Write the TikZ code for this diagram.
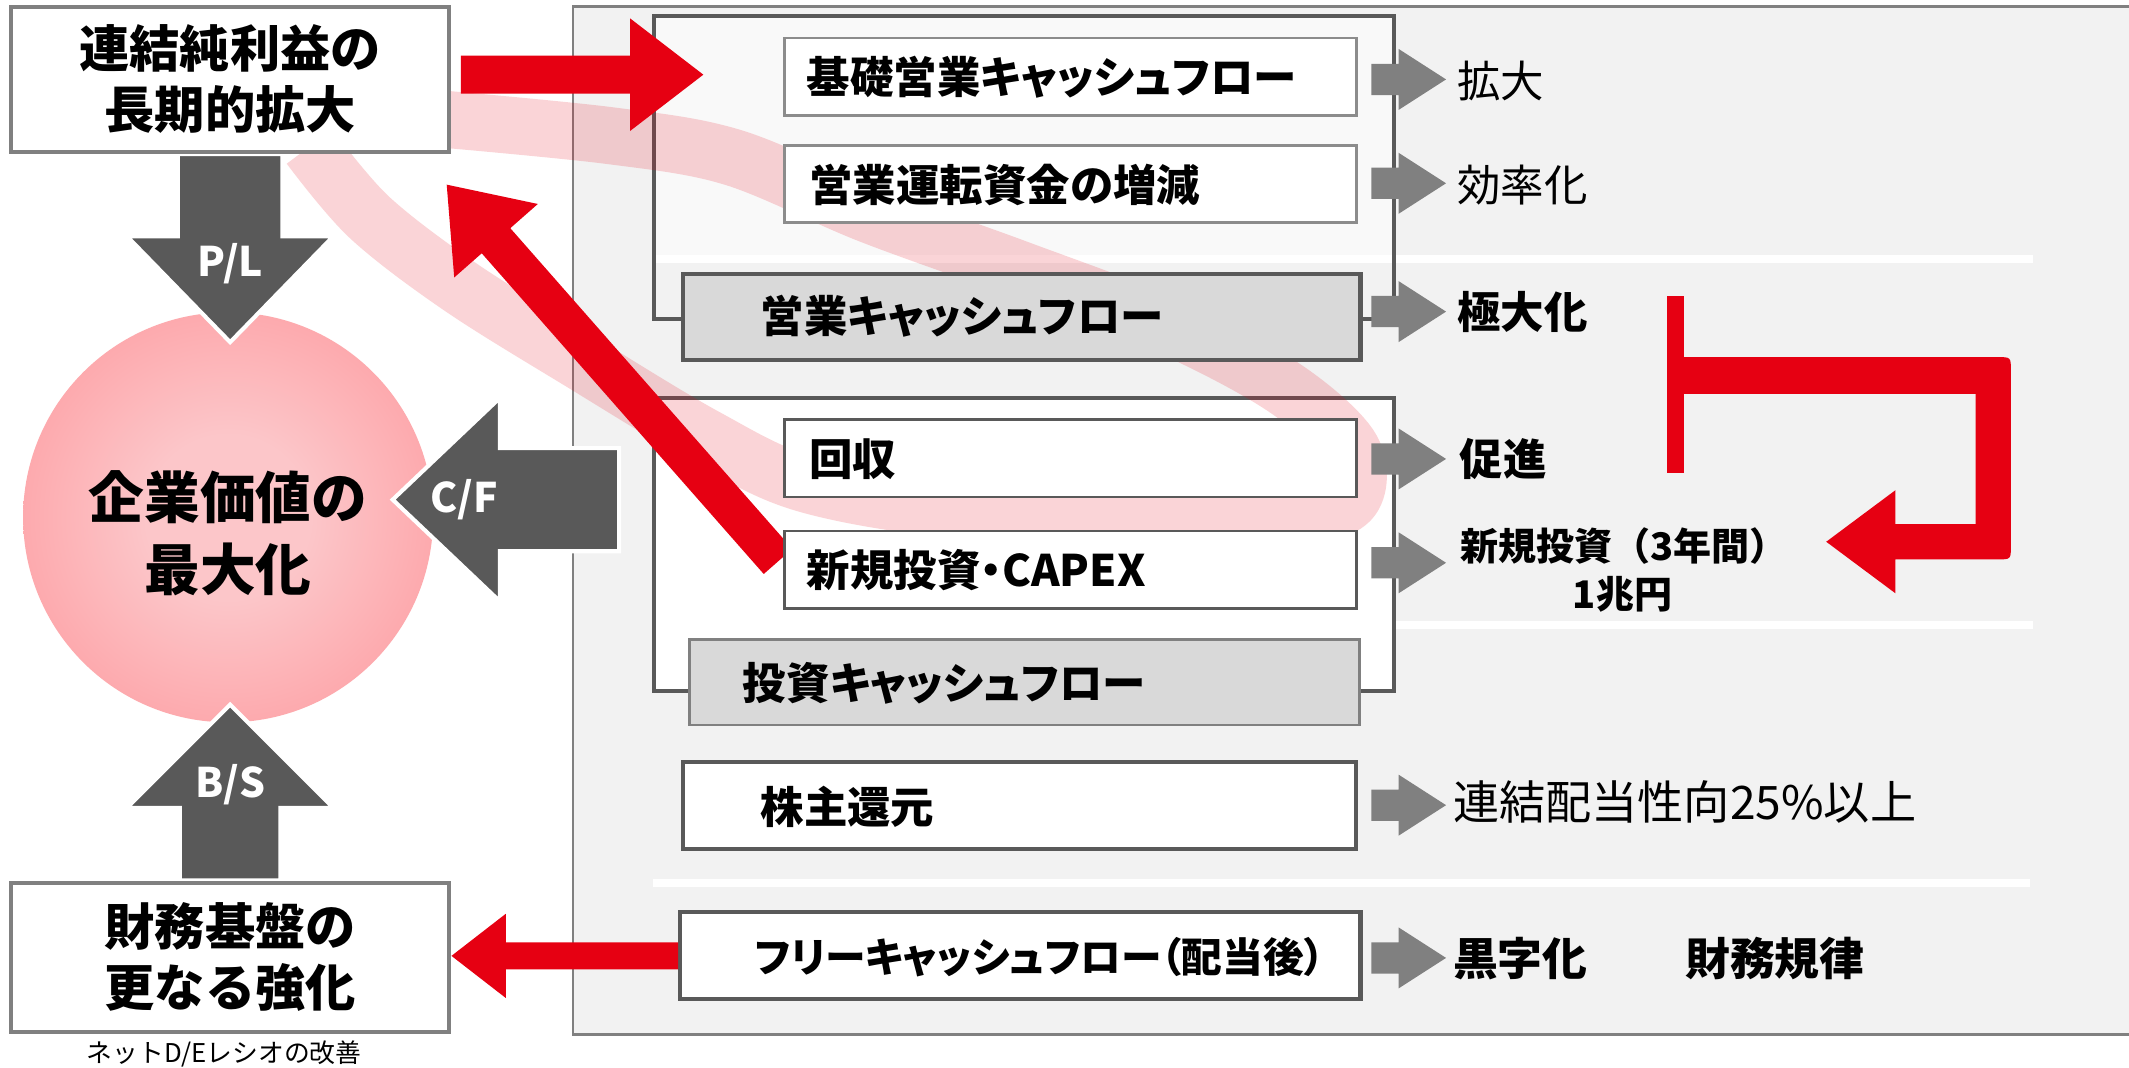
\documentclass[tikz,border=0pt]{standalone}
\usepackage{fontspec}
\newfontfamily\jp{Noto Sans CJK JP}
\newfontfamily\jpp{Noto Sans CJK JP}[RawFeature=+palt]
\usetikzlibrary{calc}
\definecolor{cred}{HTML}{E60012}
\definecolor{dgray}{HTML}{595959}
\definecolor{mgray}{HTML}{808080}
\definecolor{bgray}{HTML}{8C8C8C}
\definecolor{panelc}{HTML}{F2F2F2}
\definecolor{topc}{HTML}{F9F9F9}
\definecolor{lgbox}{HTML}{D9D9D9}
\definecolor{pkin}{HTML}{FCC6C9}
\definecolor{pkout}{HTML}{FF7B81}
\pgfdeclarelayer{back}\pgfdeclarelayer{rib}\pgfdeclarelayer{mid}\pgfdeclarelayer{front}
\pgfsetlayers{back,rib,mid,main,front}
\pgfdeclareradialshading{pinkball}{\pgfpoint{0bp}{0bp}}{color(0bp)=(pkin); color(10bp)=(pkin); color(50bp)=(pkout); color(70bp)=(pkout)}
% block arrow: [style]{tail}{tip}{head length}{head half width}{shaft half width}
\newcommand\blkarrow[6][]{%
  \coordinate (bkB) at ($(#3)!#4!(#2)$);
  \path[#1] ($(#2)!#6!90:(#3)$) -- ($(bkB)!#6!90:(#3)$) -- ($(bkB)!#5!90:(#3)$) -- (#3)
    -- ($(bkB)!#5!-90:(#3)$) -- ($(bkB)!#6!-90:(#3)$) -- ($(#2)!#6!-90:(#3)$) -- cycle;}
\tikzset{
  bigbox/.style={draw=mgray, line width=3pt, fill=white, minimum width=323pt, align=center,
    font=\jp\bfseries\fontsize{37}{45}\selectfont},
  wbox/.style={draw=bgray, line width=2pt, fill=white, minimum width=421pt, minimum height=57pt},
  wboxd/.style={draw=dgray, line width=2pt, fill=white, minimum width=421pt, minimum height=57pt},
  sbox/.style={draw=dgray, line width=3pt, fill=white, minimum height=64pt},
  gbox/.style={draw=dgray, line width=3pt, fill=lgbox, minimum height=63pt},
  btxt/.style={anchor=west, inner sep=0pt, font=\jpp\bfseries\fontsize{32}{38}\selectfont},
  rtxt/.style={anchor=west, inner sep=0pt, font=\jp\fontsize{32}{38}\selectfont},
  rbtxt/.style={anchor=west, inner sep=0pt, font=\jp\bfseries\fontsize{32}{38}\selectfont},
  albl/.style={text=white, inner sep=0pt, font=\jp\bfseries\fontsize{30}{36}\selectfont},
  garr/.style={fill=dgray, draw=white, line width=3pt, line join=miter},
  sarr/.style={fill=mgray},
  redarr/.style={fill=cred},
  ribbon/.style={draw=cred, draw opacity=0.17, line width=42pt, line join=round}
}
\begin{document}
\begin{tikzpicture}[x=1pt,y=-1pt]
\useasboundingbox (0,0) rectangle (1568,786);

% ---------- background panel, frames, separators
\begin{pgfonlayer}{back}
  \fill[white] (0,0) rectangle (1568,786);
  \draw[draw=mgray, line width=2pt, fill=panelc] (422,5) rectangle (1600,762);
  \fill[topc] (482,12) rectangle (1027,188);
  \draw[white, line width=6pt] (482,190.5) -- (1497,190.5);
  \draw[white, line width=6pt] (482,460) -- (1497,460);
  \draw[white, line width=6pt] (481,650.5) -- (1495,650.5);
  \fill[white] (482,293) rectangle (1027,509);
  \draw[dgray, line width=3pt] (482,12) rectangle (1027,235);
  \draw[dgray, line width=3pt] (482,293) rectangle (1027,509);
\end{pgfonlayer}

% ---------- translucent ribbon
\begin{pgfonlayer}{rib}
  \draw[ribbon] plot[smooth, tension=0.55] coordinates {(318,87) (450,100) (540,116) (640,158)
    (750,198) (860,240) (945,285) (995,330) (995,368) (950,382) (850,381) (700,375) (592,356)
    (520,322) (430,268) (340,212) (272,160) (228,108)};
\end{pgfonlayer}

% ---------- main boxes
\node[bigbox, minimum height=107pt] (A) at (169.5,58.5) {連結純利益の\\長期的拡大};
\node[bigbox, minimum height=110pt] (Bb) at (169.5,705) {財務基盤の\\更なる強化};
\node[font=\jp\fontsize{19}{22}\selectfont, inner sep=0pt] (note) at (165,776) {ネットD/Eレシオの改善};

\begin{pgfonlayer}{mid}
  \node[circle, minimum size=302pt, shading=pinkball, draw=none] (C) at (168,381) {};
\end{pgfonlayer}
\node[font=\jp\bfseries\fontsize{41}{53}\selectfont, align=center, inner sep=0pt] (Ct) at (168,393) {企業価値の\\最大化};

\node[wbox] (b1) at (788.5,56.5) {};
\node[btxt] (b1t) at (594,57) {基礎営業キャッシュフロー};
\node[wbox] (b2) at (788.5,135.5) {};
\node[btxt] (b2t) at (596,136) {営業運転資金の増減};
\node[gbox, minimum width=499pt] (g1) at (752.5,233.5) {};
\node[btxt] (g1t) at (560,233) {営業キャッシュフロー};
\node[wboxd] (b3) at (788.5,337.5) {};
\node[btxt] (b3t) at (596,338) {回収};
\node[wboxd] (b4) at (788.5,419.5) {};
\node[btxt] (b4t) at (594,420) {新規投資・CAPEX};
\node[gbox, draw=mgray, line width=2pt, minimum width=493pt] (g2) at (754.5,502.5) {};
\node[btxt] (g2t) at (547,503) {投資キャッシュフロー};
\node[sbox, minimum width=496pt] (b5) at (751,593) {};
\node[btxt] (b5t) at (560,594) {株主還元};
\node[sbox, minimum width=501pt] (b6) at (751.5,704) {};
\node[btxt, font=\jpp\bfseries\fontsize{30}{36}\selectfont] (b6t) at (556,705) {フリーキャッシュフロー（配当後）};

% ---------- right-hand texts
\node[rtxt] (r1) at (1073,60) {拡大};
\node[rtxt] (r2) at (1073,136) {効率化};
\node[rbtxt] (r3) at (1073,230) {極大化};
\node[rbtxt] (r4) at (1075,338) {促進};
\node[font=\jp\bfseries\fontsize{28}{35}\selectfont, inner sep=0pt] (r5) at (1196,402) {新規投資（3年間）};
\node[font=\jp\bfseries\fontsize{28}{35}\selectfont, inner sep=0pt] (r5b) at (1195,437.5) {1兆円};
\node[rtxt, font=\jp\fontsize{34}{38}\selectfont] (r6) at (1070,591) {連結配当性向25\%以上};
\node[rbtxt, font=\jp\bfseries\fontsize{33}{38}\selectfont] (r7) at (1070,706) {黒字化};
\node[rbtxt, font=\jp\bfseries\fontsize{33}{38}\selectfont] (r8) at (1241,706) {財務規律};

% ---------- gray block arrows (P/L, C/F, B/S) and red diagonal
\begin{pgfonlayer}{mid}
  \coordinate (plTip) at (169.5,252);
  \blkarrow[garr]{A.south}{plTip}{78pt}{76pt}{38.5pt}
  \coordinate (bsTip) at (169.5,519);
  \blkarrow[garr]{Bb.north}{bsTip}{76pt}{76pt}{37pt}
  \coordinate (cfTail) at (456,368);
  \coordinate (cfTip) at ($(C.east)+(-30,-13)$);
  \blkarrow[garr]{cfTail}{cfTip}{79pt}{75pt}{38pt}
  \coordinate (r2Tail) at ($(b4.west)+(-4,-6)$);
  \coordinate (r2Tip) at (329,136);
  \blkarrow[redarr]{r2Tail}{r2Tip}{55pt}{41pt}{14pt}
\end{pgfonlayer}
\node[albl] (plL) at (169.5,194) {P/L};
\node[albl] (bsL) at (169.5,578) {B/S};
\node[albl] (cfL) at (342,368) {C/F};

% ---------- front arrows
\begin{pgfonlayer}{front}
  \coordinate (r1Tail) at ($(A.east)+(7,-3.5)$);
  \coordinate (r1Tip) at (518,55);
  \blkarrow[redarr]{r1Tail}{r1Tip}{54pt}{41.5pt}{14pt}
  \coordinate (r3Tip) at (Bb.east |- b6.west);
  \blkarrow[redarr]{b6.west}{r3Tip}{40pt}{31pt}{10pt}
  % small gray arrows
  \coordinate (gx0) at (1010,0);
  \coordinate (gx1) at (1065,0);
  \foreach \bx/\dy in {b1/2, b2/-0.5, g1/-4, b3/0.5, b4/-5, b5/0, b6/1.5} {
    \path (\bx.east) ++(0,\dy) coordinate (t);
    \coordinate (ta) at (gx0 |- t);
    \coordinate (tb) at (gx1 |- t);
    \blkarrow[sarr]{ta}{tb}{35pt}{22.5pt}{11.5pt}
  }
  % feedback arrow from bracket to new investment
  \fill[cred] (1228,218) rectangle (1240,348);
  \fill[cred] (1240,263) -- (1471,263) .. controls (1481,263) .. (1481,273) -- (1481,402)
    .. controls (1481,412) .. (1471,412) -- (1396,412) -- (1396,437) -- (1345,399)
    -- (1396,361) -- (1396,386) -- (1455,386) -- (1455,290) -- (1240,290) -- cycle;
\end{pgfonlayer}
\end{tikzpicture}
\end{document}
